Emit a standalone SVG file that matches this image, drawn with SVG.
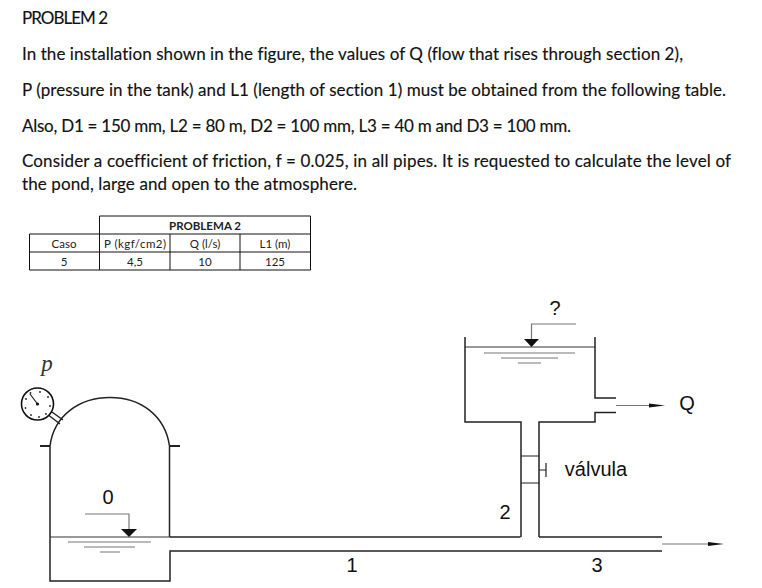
<svg xmlns="http://www.w3.org/2000/svg" width="762" height="588" viewBox="0 0 762 588">
<style>
.t{font-family:Lato,"Open Sans",sans-serif;font-size:17px;fill:#111;font-variant-ligatures:none;stroke:#111;stroke-width:.15}
.c{font-family:Lato,"Open Sans",sans-serif;font-size:11.5px;fill:#222;text-anchor:middle;font-variant-ligatures:none}
.a{font-family:"Liberation Sans",Arial,sans-serif;font-size:20px;fill:#111;text-anchor:middle}
.l{fill:none;stroke:#222;stroke-width:1.5}
.f{fill:none;stroke:#222;stroke-width:2.2}
.v{fill:none;stroke:#222;stroke-width:1.2}
.g{fill:none;stroke:#777;stroke-width:1.2}
.k{fill:none;stroke:#111;stroke-width:1}
</style>
<rect width="762" height="588" fill="#fff"/>
<g id="statement">
<text class="t" x="22" y="24" textLength="86">PROBLEM 2</text>
<text class="t" x="22" y="60" textLength="661">In the installation shown in the figure, the values of Q (flow that rises through section 2),</text>
<text class="t" x="22" y="96" textLength="704">P (pressure in the tank) and L1 (length of section 1) must be obtained from the following table.</text>
<text class="t" x="22" y="132" textLength="549">Also, D1 = 150 mm, L2 = 80 m, D2 = 100 mm, L3 = 40 m and D3 = 100 mm.</text>
<text class="t" x="22" y="167" textLength="709">Consider a coefficient of friction, f = 0.025, in all pipes. It is requested to calculate the level of</text>
<text class="t" x="22" y="190" textLength="335">the pond, large and open to the atmosphere.</text>
</g>
<g id="table">
<path class="k" d="M99.5 216H310.5V270H29.5V234H310.5M29.5 252H310.5M99.5 216V270M170 234V270M240 234V270"/>
<text class="c" x="205" y="230" font-weight="700" textLength="72">PROBLEMA  2</text>
<text class="c" x="64" y="248">Caso</text>
<text class="c" x="135" y="248" textLength="62">P (kgf/cm2)</text>
<text class="c" x="205" y="248">Q (l/s)</text>
<text class="c" x="275" y="248">L1 (m)</text>
<text class="c" x="64" y="266">5</text>
<text class="c" x="135" y="266">4,5</text>
<text class="c" x="205" y="266">10</text>
<text class="c" x="275" y="266">125</text>
</g>
<g id="gauge">
<text x="47" y="371" font-family="Liberation Serif,serif" font-style="italic" font-size="23" fill="#333" text-anchor="middle">p</text>
<path d="M49 415.500L60 424M52 412L63 420" stroke="#222" stroke-width="1.4"/>
<circle cx="37.500" cy="404" r="16" fill="#fff" stroke="#111" stroke-width="1.6"/>
<path d="M30 394L37.500 404" stroke="#222" stroke-width="1.2"/>
<circle cx="37.500" cy="404" r="1.600" fill="#111"/>
<g fill="#222">
<circle cx="40" cy="392" r=".9"/><circle cx="48" cy="397" r=".9"/><circle cx="50" cy="406" r=".9"/><circle cx="46" cy="414" r=".9"/><circle cx="39" cy="417" r=".9"/><circle cx="31" cy="415" r=".9"/><circle cx="25.500" cy="408" r=".9"/><circle cx="26" cy="399" r=".9"/><circle cx="30.500" cy="393" r=".9"/>
</g>
</g>
<g id="tank">
<path class="l" d="M50 537V581H170V551H662M170 537H520.500M50 537V446C54 415 80 397.500 110 397.500C140 397.500 165 415 169.500 446V537"/>
<path class="f" d="M40 446H50M170 446H180"/>
<path d="M50 537H170" stroke="#333" stroke-width="1"/>
<path class="g" d="M68 542H151M84 547H135M100 552H120"/>
<path class="g" d="M85 514H129V530"/>
<path d="M121 529H137L129 537Z" fill="#111"/>
<text class="a" x="108" y="504">0</text>
</g>
<g id="reservoir">
<path class="l" d="M465 337V422H521V537M539 537V422H595V412.500H616M595 337V398H616M539 537H662"/>
<path d="M465 347H595" stroke="#333" stroke-width="1"/>
<path class="g" d="M484 353H575M501 358H558M518 363H541"/>
<path class="g" d="M576 324H531.500V340"/>
<path d="M524 339H539L531.500 347Z" fill="#111"/>
<text class="a" x="555" y="315">?</text>
</g>
<g id="valve">
<path class="v" d="M521 456H539M521 483H539M539 470H546M546 463V477"/>
<text class="a" x="596" y="476">válvula</text>
</g>
<g id="connectors">
<path class="g" d="M616 405.500H652"/>
<path d="M649 403.500L665 405.500L649 407.500Z" fill="#111"/>
<path class="g" d="M662 544H712"/>
<path d="M708 542L724 544L708 546Z" fill="#111"/>
</g>
<g id="labels">
<text class="a" x="687" y="410">Q</text>
<text class="a" x="505" y="519">2</text>
<text class="a" x="352" y="572">1</text>
<text class="a" x="597" y="572">3</text>
</g>
</svg>
